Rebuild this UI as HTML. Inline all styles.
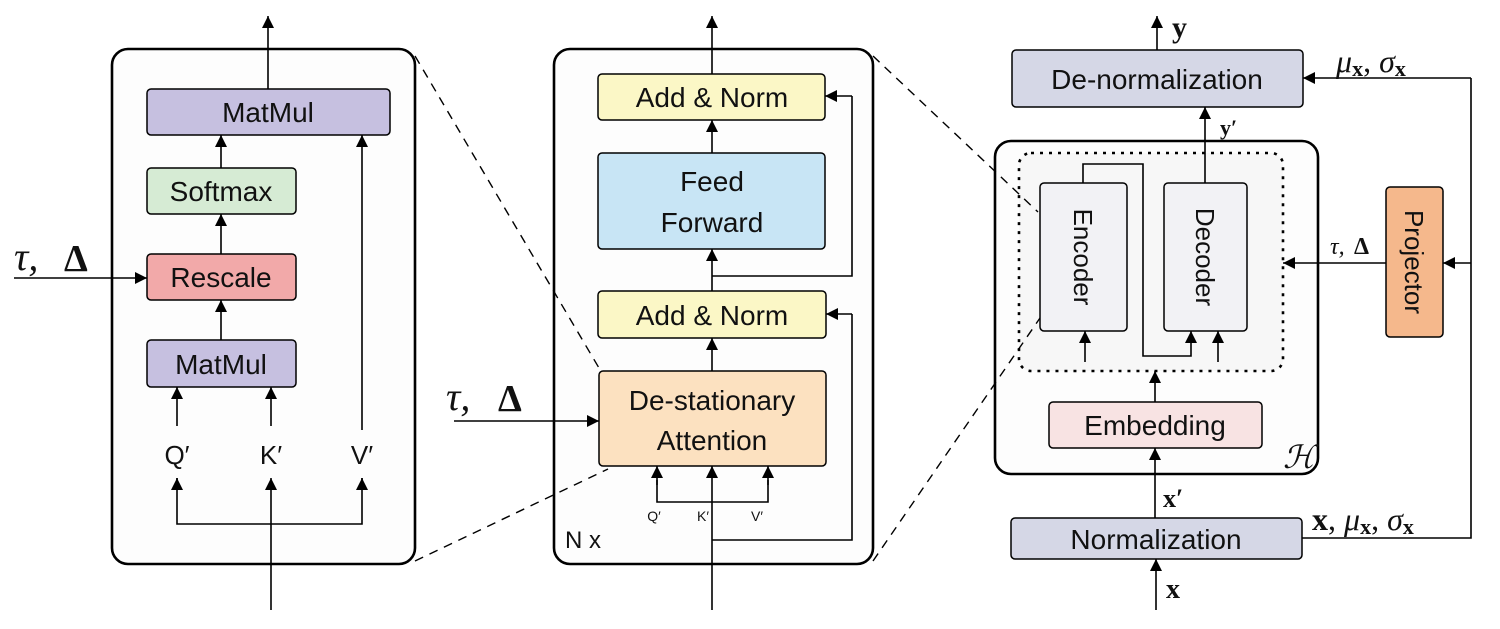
<!DOCTYPE html>
<html><head><meta charset="utf-8"><style>
html,body{margin:0;padding:0;background:#fff;}
svg{display:block;}
text{font-family:"Liberation Sans",sans-serif;fill:#111;}
.m{font-family:"Liberation Serif",serif;}
</style></head><body>
<svg width="1500" height="629" viewBox="0 0 1500 629" xmlns="http://www.w3.org/2000/svg">
<defs>
<marker id="b" viewBox="0 0 10 10" refX="10" refY="5" markerWidth="14" markerHeight="12" orient="auto" markerUnits="userSpaceOnUse">
<path d="M0,0 L10,5 L0,10 z" fill="#000"/></marker>
</defs>
<g stroke="#000" stroke-width="1.6" fill="none">
<rect x="112" y="49" width="303" height="515" rx="16" fill="#fdfdfd" stroke-width="2.6"/>
<rect x="554" y="49" width="319" height="515" rx="16" fill="#fdfdfd" stroke-width="2.6"/>
<rect x="995" y="141" width="323" height="333" rx="16" fill="#fdfdfd" stroke-width="2.6"/>
<rect x="1019" y="153" width="264" height="218" rx="12" fill="#f7f7f7" stroke-dasharray="3,6" stroke-width="2.6"/>
<!-- dashed zoom lines -->
<g stroke-dasharray="9,7" stroke-width="1.4">
<line x1="415" y1="56" x2="599" y2="368"/>
<line x1="415" y1="561" x2="608" y2="469"/>
<line x1="873" y1="56" x2="1038" y2="212"/>
<line x1="873" y1="561" x2="1040" y2="318"/>
</g>
</g>
<g stroke="#000" stroke-width="1.5">
<rect x="147" y="89" width="243" height="46" rx="4" fill="#c6c0e0"/>
<rect x="147" y="168" width="149" height="46" rx="4" fill="#d6ebd4"/>
<rect x="147" y="254" width="149" height="46" rx="4" fill="#f2a9a9"/>
<rect x="147" y="340" width="149" height="47" rx="4" fill="#c6c0e0"/>
<rect x="598" y="74" width="227" height="46" rx="4" fill="#fbf7c6"/>
<rect x="598" y="153" width="227" height="96" rx="4" fill="#c8e5f5"/>
<rect x="598" y="291" width="228" height="47" rx="4" fill="#fbf7c6"/>
<rect x="599" y="371" width="227" height="95" rx="4" fill="#fce1c0"/>
<rect x="1012" y="50" width="291" height="57" rx="4" fill="#d5d7e6"/>
<rect x="1040" y="183" width="87" height="148" rx="4" fill="#f2f2f5"/>
<rect x="1164" y="183" width="83" height="148" rx="4" fill="#f2f2f5"/>
<rect x="1049" y="402" width="213" height="46" rx="4" fill="#f8e3e3"/>
<rect x="1011" y="518" width="291" height="41" rx="4" fill="#d5d7e6"/>
<rect x="1386" y="187" width="57" height="150" rx="4" fill="#f5b88c"/>
</g>
<g stroke="#000" stroke-width="1.6" fill="none">
<line x1="268" y1="89" x2="268" y2="16" marker-end="url(#b)"/>
<line x1="221" y1="168" x2="221" y2="135" marker-end="url(#b)"/>
<line x1="221" y1="254" x2="221" y2="214" marker-end="url(#b)"/>
<line x1="221" y1="340" x2="221" y2="300" marker-end="url(#b)"/>
<line x1="177" y1="426" x2="177" y2="387" marker-end="url(#b)"/>
<line x1="271" y1="426" x2="271" y2="387" marker-end="url(#b)"/>
<line x1="362" y1="430" x2="362" y2="135" marker-end="url(#b)"/>
<polyline points="177,478 177,524 362,524 362,478"/>
<line x1="177" y1="490" x2="177" y2="478" marker-end="url(#b)"/>
<line x1="362" y1="490" x2="362" y2="478" marker-end="url(#b)"/>
<line x1="271" y1="610" x2="271" y2="478" marker-end="url(#b)"/>
<line x1="14" y1="278" x2="147" y2="278" marker-end="url(#b)"/>
<line x1="712" y1="74" x2="712" y2="16" marker-end="url(#b)"/>
<line x1="712" y1="153" x2="712" y2="120" marker-end="url(#b)"/>
<line x1="712" y1="291" x2="712" y2="249" marker-end="url(#b)"/>
<line x1="712" y1="371" x2="712" y2="338" marker-end="url(#b)"/>
<polyline points="712,276 852,276 852,96"/>
<line x1="852" y1="96" x2="825" y2="96" marker-end="url(#b)"/>
<polyline points="712,540 852,540 852,314"/>
<line x1="852" y1="314" x2="826" y2="314" marker-end="url(#b)"/>
<polyline points="657,480 657,502 768,502 768,480"/>
<line x1="657" y1="485" x2="657" y2="466" marker-end="url(#b)"/>
<line x1="768" y1="485" x2="768" y2="466" marker-end="url(#b)"/>
<line x1="712" y1="610" x2="712" y2="466" marker-end="url(#b)"/>
<line x1="454" y1="421" x2="599" y2="421" marker-end="url(#b)"/>
<line x1="1157" y1="50" x2="1157" y2="16" marker-end="url(#b)"/>
<line x1="1205" y1="183" x2="1205" y2="107" marker-end="url(#b)"/>
<polyline points="1083,183 1083,164 1143,164 1143,356 1191,356 1191,345"/>
<line x1="1191" y1="345" x2="1191" y2="331" marker-end="url(#b)"/>
<line x1="1218" y1="362" x2="1218" y2="331" marker-end="url(#b)"/>
<line x1="1085" y1="362" x2="1085" y2="331" marker-end="url(#b)"/>
<line x1="1155" y1="402" x2="1155" y2="371" marker-end="url(#b)"/>
<line x1="1155" y1="518" x2="1155" y2="448" marker-end="url(#b)"/>
<line x1="1156" y1="610" x2="1156" y2="559" marker-end="url(#b)"/>
<polyline points="1302,538 1471,538 1471,78"/>
<line x1="1471" y1="78" x2="1303" y2="78" marker-end="url(#b)"/>
<line x1="1471" y1="263" x2="1443" y2="263" marker-end="url(#b)"/>
<line x1="1386" y1="263" x2="1283" y2="263" marker-end="url(#b)"/>
</g>
<g font-size="28" text-anchor="middle">
<text x="268" y="122">MatMul</text>
<text x="221" y="201">Softmax</text>
<text x="221" y="287">Rescale</text>
<text x="221" y="374">MatMul</text>
<text x="712" y="107">Add &amp; Norm</text>
<text x="712" y="191">Feed</text>
<text x="712" y="232">Forward</text>
<text x="712" y="325">Add &amp; Norm</text>
<text x="712" y="410">De-stationary</text>
<text x="712" y="450">Attention</text>
<text x="1157" y="89">De-normalization</text>
<text x="1155" y="435">Embedding</text>
<text x="1156" y="549">Normalization</text>
</g>
<g font-size="26" text-anchor="middle">
<text x="177" y="464">Q′</text>
<text x="271" y="464">K′</text>
<text x="362" y="464">V′</text>
</g>
<g font-size="14" text-anchor="middle">
<text x="654" y="521">Q′</text>
<text x="703" y="521">K′</text>
<text x="757" y="521">V′</text>
</g>
<text x="565" y="548" font-size="24">N x</text>
<text x="1083" y="257" font-size="26" text-anchor="middle" transform="rotate(90 1083 257)" dominant-baseline="central">Encoder</text>
<text x="1205" y="257" font-size="26" text-anchor="middle" transform="rotate(90 1205 257)" dominant-baseline="central">Decoder</text>
<text x="1414" y="262" font-size="26" text-anchor="middle" transform="rotate(90 1414 262)" dominant-baseline="central">Projector</text>
<text class="m" x="14" y="270" font-size="40" font-style="italic">τ,</text>
<text class="m" x="64" y="271" font-size="38" font-weight="bold">Δ</text>
<text class="m" x="446" y="410" font-size="40" font-style="italic">τ,</text>
<text class="m" x="498" y="411" font-size="38" font-weight="bold">Δ</text>
<text class="m" x="1330" y="254" font-size="24" font-style="italic">τ,</text>
<text class="m" x="1354" y="254" font-size="24" font-weight="bold">Δ</text>
<text class="m" x="1172" y="37" font-size="30" font-weight="bold">y</text>
<text class="m" x="1220" y="135" font-size="22" font-weight="bold">y′</text>
<text class="m" x="1163" y="507" font-size="26" font-weight="bold">x′</text>
<text class="m" x="1166" y="598" font-size="28" font-weight="bold">x</text>
<text class="m" x="1336" y="72" font-size="32"><tspan font-style="italic">μ</tspan><tspan font-size="22" font-weight="bold" dy="4">x</tspan><tspan dy="-4">, </tspan><tspan font-style="italic">σ</tspan><tspan font-size="22" font-weight="bold" dy="4">x</tspan></text>
<text class="m" x="1312" y="530" font-size="32"><tspan font-weight="bold">x</tspan><tspan>, </tspan><tspan font-style="italic">μ</tspan><tspan font-size="22" font-weight="bold" dy="4">x</tspan><tspan dy="-4">, </tspan><tspan font-style="italic">σ</tspan><tspan font-size="22" font-weight="bold" dy="4">x</tspan></text>
<text class="m" x="1283" y="468" font-size="32" font-style="italic">ℋ</text>
</svg>
</body></html>
